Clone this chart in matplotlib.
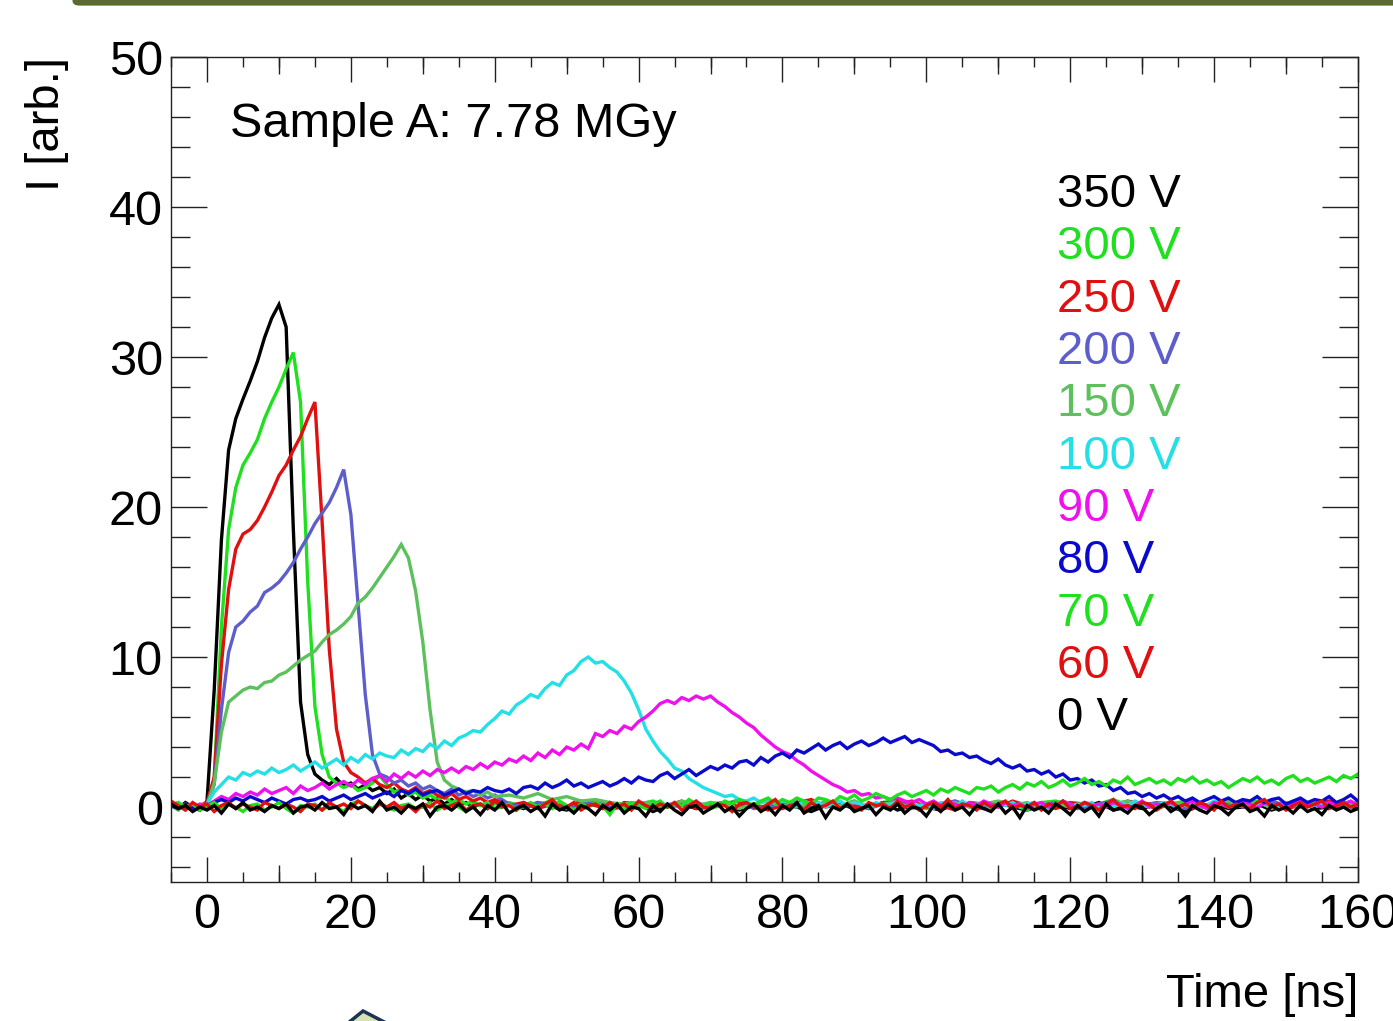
import numpy as np
import matplotlib
matplotlib.use('Agg')
import matplotlib.pyplot as plt
from matplotlib.patches import FancyBboxPatch, Polygon
from matplotlib.ticker import MultipleLocator, NullLocator

plt.rcParams['font.family'] = ['Liberation Sans', 'DejaVu Sans']

# sample times [ns]: 1 ns everywhere for the slow pulses,
# 1 ns up to 40 ns and 2 ns after that for the fast ones
T_FULL = np.arange(-5, 161)
T_FAST = np.concatenate([np.arange(-5, 41), np.arange(42, 161, 2)])

LABELS = ['350 V', '300 V', '250 V', '200 V', '150 V', '100 V',
          '90 V', '80 V', '70 V', '60 V', '0 V']
COLORS = ['#000000', '#1fe01f', '#e01010', '#5d5dcc', '#5cc05c', '#22e0e6',
          '#ee11ee', '#0a0acc', '#1fe01f', '#e01010', '#000000']

# --- fast pulses (on T_FAST) ---
I_350 = [0.2, -0.1, 0.3, 0.0, -0.2, 0.4,
         7.8, 17.8, 23.8, 25.9, 27.2, 28.4, 29.7, 31.3, 32.6, 33.5,
         32.0, 18.5, 7.0, 3.5, 2.2, 1.8, 1.5, 1.9, 1.4, 1.6,
         1.2, 1.5, 1.1, 1.3, 0.9, 1.2, 0.6, 0.9, 0.5, 0.8,
         0.4, 0.6, 0.2, 0.5, 0.1, 0.3, 0.0, 0.2, -0.1, 0.3,
         0.2, -0.1, 0.3, 0.0, -0.2, 0.1, 0.3, -0.1, 0.0, 0.2,
         -0.3, 0.1, 0.2, -0.1, 0.0, 0.3, -0.2, 0.1, -0.1, 0.2,
         0.0, -0.3, 0.1, 0.2, -0.1, 0.0, 0.3, -0.2, 0.1, 0.0,
         -0.2, 0.2, 0.1, -0.1, 0.3, 0.0, -0.2, 0.1, 0.2, -0.1,
         0.0, 0.3, -0.2, 0.1, -0.1, 0.2, 0.0, -0.3, 0.1, 0.2,
         -0.1, 0.0, 0.2, -0.2, 0.1, 0.3, -0.1, 0.0, 0.2, -0.1]
I_300 = [0.3, 0.1, -0.2, 0.2, 0.0, 0.2,
         1.8, 12.0, 18.5, 21.3, 22.8, 23.6, 24.5, 25.9, 27.0, 28.0,
         29.2, 30.3, 27.0, 15.0, 6.7, 3.5, 2.0, 1.6, 1.3, 1.5,
         1.1, 1.3, 1.6, 2.1, 1.5, 1.0, 1.2, 0.8, 1.0, 0.6,
         0.8, 0.5, 0.7, 0.3, 0.5, 0.2, 0.4, 0.1, 0.3, 0.2,
         0.3, 0.0, 0.2, 0.4, -0.1, 0.2, 0.1, 0.3, -0.2, 0.2,
         0.4, 0.0, 0.1, 0.3, -0.1, 0.2, 0.5, 0.1, 0.0, 0.3,
         0.2, -0.1, 0.4, 0.1, 0.2, 0.0, 0.3, 0.5, 0.1, -0.1,
         0.2, 0.4, 0.0, 0.3, 0.1, 0.2, -0.2, 0.3, 0.4, 0.1,
         0.0, 0.2, 0.5, 0.1, 0.3, -0.1, 0.2, 0.4, 0.0, 0.3,
         0.1, 0.2, 0.4, -0.1, 0.3, 0.2, 0.0, 0.4, 0.1, 0.3]
I_250 = [0.3, 0.0, 0.2, -0.1, 0.1, 0.3,
         2.0, 9.5, 14.5, 17.2, 18.2, 18.5, 19.1, 20.0, 21.0, 22.1,
         22.8, 23.8, 24.7, 25.9, 27.0, 19.0, 10.5, 5.2, 3.0, 2.3,
         2.0, 1.6, 1.9, 1.5, 1.3, 1.6, 1.2, 1.0, 1.3, 0.9,
         1.1, 0.8, 0.6, 0.9, 0.5, 0.7, 0.4, 0.6, 0.3, 0.5,
         0.1, 0.3, -0.1, 0.2, 0.0, 0.4, 0.1, -0.2, 0.3, 0.2,
         0.0, 0.1, 0.4, -0.1, 0.2, 0.3, 0.0, 0.2, -0.2, 0.1,
         0.3, 0.5, 0.0, 0.2, 0.1, -0.1, 0.3, 0.2, 0.4, 0.0,
         0.1, -0.2, 0.3, 0.2, 0.0, 0.4, 0.1, 0.2, -0.1, 0.3,
         0.2, 0.0, 0.1, 0.4, 0.2, -0.1, 0.3, 0.0, 0.2, 0.1,
         0.4, 0.0, 0.2, 0.3, -0.1, 0.1, 0.2, 0.4, 0.0, 0.2]
I_200 = [0.0, 0.2, -0.1, 0.1, 0.0, 0.2,
         1.5, 6.5, 10.3, 12.0, 12.4, 13.0, 13.4, 14.3, 14.6, 15.0,
         15.6, 16.3, 17.2, 18.0, 18.9, 19.6, 20.3, 21.3, 22.5, 19.5,
         13.5, 7.5, 3.5, 2.2, 2.0, 1.6, 1.8, 1.4, 1.6, 1.2,
         1.4, 1.1, 0.9, 1.2, 0.8, 1.0, 0.7, 0.9, 0.6, 0.8,
         0.2, 0.0, 0.3, 0.1, -0.1, 0.2, 0.4, 0.0, 0.1, 0.3,
         -0.1, 0.2, 0.1, 0.3, 0.0, 0.2, 0.4, -0.1, 0.1, 0.2,
         0.3, 0.0, 0.2, 0.1, 0.4, -0.1, 0.2, 0.3, 0.0, 0.1,
         0.2, 0.4, 0.1, -0.1, 0.3, 0.2, 0.0, 0.1, 0.3, 0.2,
         -0.1, 0.2, 0.4, 0.0, 0.1, 0.3, 0.2, -0.1, 0.2, 0.1,
         0.3, 0.0, 0.2, 0.4, 0.1, 0.0, 0.3, 0.2, 0.1, 0.3]
I_150 = [0.1, -0.2, 0.2, 0.0, -0.1, 0.1,
         1.6, 5.0, 7.0, 7.4, 7.8, 8.0, 7.9, 8.3, 8.4, 8.8,
         9.0, 9.4, 9.8, 10.1, 10.4, 11.0, 11.5, 11.8, 12.2, 12.7,
         13.6, 14.0, 14.6, 15.3, 16.0, 16.7, 17.5, 16.6, 14.4, 11.0,
         6.5, 3.0, 1.8, 1.4, 1.2, 1.0, 1.1, 0.8, 1.0, 0.7,
         0.8, 0.6, 0.9, 0.5, 0.7, 0.4, 0.5, 0.3, 0.2, 0.3,
         0.2, 0.0, 0.4, 0.1, 0.3, 0.2, -0.1, 0.2, 0.4, 0.1,
         0.0, 0.3, 0.2, 0.1, 0.4, 0.0, 0.2, 0.3, -0.1, 0.2,
         0.1, 0.3, 0.0, 0.2, 0.4, 0.1, 0.3, -0.1, 0.2, 0.0,
         0.3, 0.1, 0.2, 0.4, 0.0, 0.2, 0.3, 0.1, -0.1, 0.2,
         0.4, 0.1, 0.3, 0.0, 0.2, 0.1, 0.3, 0.2, 0.0, 0.3]

# --- slow pulses and baselines (on T_FULL) ---
I_100 = [0.1, 0.3, 0.0, 0.2, -0.1, 0.2, 1.0, 1.5, 2.0, 1.8, 2.3, 2.1, 2.4, 2.2, 2.6, 2.3, 2.5, 2.8, 2.4, 2.7,
         3.0, 2.6, 2.9, 3.2, 2.8, 3.3, 3.0, 3.5, 3.2, 3.6, 3.4, 3.3, 3.8, 3.5, 3.9, 3.7, 4.2, 3.9, 4.4, 4.1,
         4.6, 4.8, 5.1, 5.0, 5.5, 5.9, 6.4, 6.2, 6.8, 7.1, 7.5, 7.3, 7.9, 8.3, 8.1, 8.8, 9.1, 9.7, 10.0, 9.6,
         9.7, 9.3, 9.0, 8.4, 7.6, 6.5, 5.2, 4.4, 3.7, 3.2, 2.6, 2.4, 1.9, 1.6, 1.3, 1.1, 0.9, 0.7, 0.8, 0.5,
         0.4, 0.6, 0.3, 0.5, 0.2, 0.4, 0.3, 0.1, 0.4, 0.2, 0.3, 0.0, 0.2, 0.4, 0.1, 0.3, 0.2, 0.0, 0.3, 0.1,
         0.2, 0.4, 0.0, 0.3, 0.1, 0.2, -0.1, 0.3, 0.2, 0.0, 0.4, 0.1, 0.2, 0.3, -0.1, 0.2, 0.1, 0.3, 0.0, 0.2,
         0.3, 0.1, -0.1, 0.2, 0.4, 0.0, 0.2, 0.1, 0.3, -0.1, 0.2, 0.0, 0.3, 0.1, 0.4, 0.2, 0.0, 0.1, 0.3, 0.2,
         -0.1, 0.2, 0.3, 0.0, 0.1, 0.4, 0.2, 0.0, 0.3, 0.1, -0.1, 0.2, 0.3, 0.1, 0.0, 0.2, 0.4, 0.1, 0.2, 0.0,
         0.3, 0.1, 0.2, 0.4, 0.0, 0.2]
I_90 = [0.2, 0.0, 0.1, -0.1, 0.2, 0.1, 0.4, 0.7, 0.5, 0.9, 0.7, 1.0, 0.8, 1.2, 0.9, 1.1, 1.3, 0.9, 1.4, 1.1,
        1.3, 1.6, 1.2, 1.5, 1.7, 1.4, 1.8, 1.5, 1.9, 2.1, 1.7, 2.2, 1.9, 2.3, 2.0, 2.4, 2.1, 2.5, 2.3, 2.6,
        2.3, 2.7, 2.5, 2.9, 2.6, 3.0, 2.8, 3.2, 3.0, 3.4, 3.1, 3.6, 3.3, 3.8, 3.5, 4.0, 3.8, 4.2, 3.9, 4.9,
        4.7, 5.1, 4.9, 5.4, 5.2, 5.7, 6.0, 6.4, 6.9, 7.1, 6.9, 7.3, 7.1, 7.4, 7.2, 7.4, 7.0, 6.7, 6.3, 6.0,
        5.6, 5.3, 4.8, 4.4, 4.0, 3.7, 3.5, 3.1, 2.8, 2.4, 2.1, 1.8, 1.5, 1.3, 1.0, 1.1, 0.8, 0.9, 0.6, 0.7,
        0.5, 0.6, 0.4, 0.3, 0.5, 0.2, 0.4, 0.1, 0.3, 0.2, 0.0, 0.3, 0.1, 0.4, 0.2, 0.0, 0.3, 0.1, 0.2, -0.1,
        0.2, 0.3, 0.0, 0.1, 0.4, 0.2, -0.1, 0.3, 0.1, 0.2, 0.0, 0.3, 0.2, -0.1, 0.1, 0.4, 0.0, 0.2, 0.1, 0.3,
        0.0, 0.2, 0.4, 0.1, -0.1, 0.3, 0.2, 0.0, 0.1, 0.4, 0.2, -0.1, 0.3, 0.1, 0.2, 0.0, 0.3, 0.4, 0.1, 0.2,
        0.0, 0.3, 0.1, 0.2, 0.4, 0.1]
I_80 = [0.1, -0.1, 0.2, 0.0, -0.2, 0.1, 0.3, 0.5, 0.3, 0.6, 0.4, 0.7, 0.5, 0.3, 0.6, 0.4, 0.2, 0.5, 0.6, 0.4,
        0.5, 0.7, 0.4, 0.6, 0.8, 0.5, 0.7, 0.9, 0.6, 0.8, 1.0, 0.7, 1.1, 0.9, 1.2, 0.8, 1.0, 1.1, 0.8, 1.0,
        1.2, 0.9, 1.1, 1.0, 1.3, 1.1, 1.0, 1.2, 0.9, 1.3, 1.4, 1.2, 1.6, 1.3, 1.5, 1.8, 1.4, 1.6, 1.3, 1.5,
        1.7, 1.4, 1.6, 1.9, 1.6, 2.0, 1.8, 1.7, 2.1, 2.3, 1.9, 2.2, 2.5, 2.1, 2.4, 2.7, 2.5, 2.8, 2.6, 3.0,
        3.1, 2.8, 3.3, 3.0, 3.4, 3.6, 3.3, 3.8, 3.6, 3.9, 4.2, 3.8, 4.1, 4.3, 3.9, 4.2, 4.4, 4.1, 4.3, 4.6,
        4.3, 4.5, 4.7, 4.3, 4.5, 4.3, 4.1, 3.7, 3.8, 3.5, 3.6, 3.3, 3.4, 3.1, 2.9, 3.2, 2.8, 2.6, 2.8, 2.4,
        2.5, 2.2, 2.4, 2.0, 2.2, 1.8, 1.9, 1.6, 1.8, 1.4, 1.5, 1.1, 1.3, 0.9, 1.0, 0.7, 0.9, 0.6, 0.8, 0.5,
        0.7, 0.4, 0.6, 0.3, 0.5, 0.7, 0.4, 0.6, 0.3, 0.5, 0.4, 0.7, 0.3, 0.5, 0.6, 0.2, 0.4, 0.6, 0.3, 0.5,
        0.4, 0.7, 0.3, 0.5, 0.8, 0.4]
I_70 = [0.1, 0.3, 0.0, 0.2, -0.2, 0.1, 0.3, -0.1, 0.2, 0.0, -0.3, 0.1, 0.2, -0.2, 0.0, 0.3, -0.1, -0.4, 0.1, 0.0,
        0.2, -0.2, 0.1, 0.0, -0.3, 0.2, 0.4, 0.1, -0.1, 0.3, 0.0, -0.2, 0.1, 0.2, -0.1, 0.0, 0.3, -0.2, 0.1, 0.2,
        0.0, -0.3, 0.2, 0.1, 0.3, -0.1, 0.0, 0.2, -0.2, 0.1, 0.3, 0.0, 0.2, -0.1, 0.4, 0.1, -0.2, 0.2, 0.0, 0.3,
        0.1, -0.5, 0.2, 0.0, 0.3, 0.1, -0.1, 0.2, 0.4, 0.0, 0.3, 0.1, 0.5, 0.2, 0.0, 0.3, 0.1, 0.4, 0.2, 0.5,
        0.3, 0.1, 0.4, 0.6, 0.2, 0.5, 0.3, 0.6, 0.4, 0.2, 0.6, 0.5, 0.3, 0.7, 0.5, 0.8, 0.4, 0.6, 0.9, 0.7,
        0.5, 0.8, 1.0, 0.7, 0.9, 1.1, 0.8, 1.2, 1.0, 1.3, 1.1, 0.9, 1.3, 1.2, 1.4, 1.0, 1.3, 1.5, 1.2, 1.6,
        1.4, 1.7, 1.3, 1.5, 1.8, 1.4, 1.6, 1.9, 1.5, 1.7, 1.4, 1.8, 1.6, 2.0, 1.5, 1.7, 1.9, 1.6, 1.8, 1.5,
        1.9, 1.7, 2.0, 1.6, 1.8, 1.5, 1.7, 1.3, 1.6, 1.9, 1.7, 2.0, 1.6, 1.8, 1.5, 1.9, 2.1, 1.7, 1.9, 1.6,
        1.8, 2.0, 1.7, 2.1, 1.9, 2.2]
I_60 = [0.4, 0.1, -0.2, 0.3, 0.0, 0.2, -0.3, 0.1, 0.3, -0.1, 0.2, 0.0, -0.2, 0.3, 0.1, -0.1, 0.2, 0.0, -0.3, 0.2,
        0.1, -0.2, 0.3, 0.0, 0.2, -0.1, 0.4, 0.1, -0.2, 0.2, 0.0, 0.3, -0.1, 0.1, -0.3, 0.2, 0.0, 0.4, -0.1, 0.1,
        0.3, -0.2, 0.1, 0.2, -0.1, 0.4, 0.0, 0.1, -0.2, 0.3, 0.1, -0.1, 0.2, 0.5, -0.1, 0.0, 0.3, -0.2, 0.1, 0.2,
        -0.1, 0.3, 0.0, 0.2, -0.2, 0.4, 0.1, -0.1, 0.2, 0.0, 0.3, -0.2, 0.1, 0.4, 0.0, -0.1, 0.2, 0.1, -0.3, 0.2,
        0.3, 0.0, -0.1, 0.2, 0.5, -0.1, 0.1, 0.2, -0.2, 0.3, 0.0, 0.1, 0.4, -0.1, 0.2, 0.0, -0.2, 0.3, 0.1, 0.2,
        -0.1, 0.4, 0.0, 0.2, -0.2, 0.1, 0.3, 0.0, 0.5, -0.1, 0.2, 0.1, -0.2, 0.3, 0.0, 0.2, 0.4, -0.1, 0.1, 0.0,
        0.3, -0.2, 0.2, 0.1, 0.4, -0.1, 0.0, 0.3, 0.1, -0.2, 0.2, 0.5, 0.0, 0.1, -0.1, 0.3, 0.2, -0.2, 0.1, 0.4,
        0.0, 0.2, -0.1, 0.3, 0.1, -0.2, 0.4, 0.0, 0.2, 0.1, -0.1, 0.3, 0.5, 0.0, 0.2, -0.2, 0.1, 0.3, 0.0, 0.2,
        0.4, -0.1, 0.1, 0.3, 0.0, 0.2]
I_0 = [0.2, -0.1, 0.1, -0.3, 0.0, -0.2, 0.1, -0.4, 0.2, -0.1, 0.3, -0.2, 0.0, -0.3, 0.1, -0.1, 0.2, -0.4, 0.0, 0.1,
       -0.2, 0.3, -0.1, 0.0, -0.5, 0.2, -0.1, 0.1, -0.3, 0.4, -0.2, 0.0, -0.4, 0.1, -0.1, 0.2, -0.6, 0.0, 0.1, -0.2,
       0.2, -0.3, 0.0, -0.5, 0.1, -0.2, 0.3, -0.4, -0.1, 0.1, -0.3, 0.0, -0.6, 0.2, -0.2, 0.0, -0.4, 0.1, -0.1, -0.5,
       0.1, -0.2, 0.2, -0.4, 0.0, -0.1, -0.6, 0.1, -0.3, 0.2, -0.2, -0.5, 0.0, 0.1, -0.4, -0.1, 0.2, -0.3, 0.0, -0.6,
       -0.1, 0.2, -0.3, 0.0, -0.5, 0.1, -0.2, 0.3, -0.4, -0.1, 0.1, -0.7, 0.0, -0.2, 0.2, -0.3, -0.1, 0.1, -0.5, 0.0,
       -0.2, 0.2, -0.4, 0.0, -0.1, -0.6, 0.1, -0.3, 0.2, -0.2, 0.0, -0.5, 0.1, -0.1, -0.3, 0.2, -0.4, 0.0, -0.7, 0.1,
       -0.2, 0.0, -0.4, 0.2, -0.1, -0.5, 0.1, -0.3, 0.0, -0.6, 0.2, -0.2, -0.1, -0.4, 0.1, 0.0, -0.5, -0.1, 0.2, -0.3,
       0.0, -0.6, 0.1, -0.2, -0.4, 0.1, -0.1, -0.5, 0.0, 0.2, -0.3, -0.1, -0.6, 0.1, -0.2, 0.0, -0.4, 0.1, -0.3, -0.1,
       -0.5, 0.1, -0.2, 0.0, -0.3, -0.1]

SERIES = [(T_FAST, I_350), (T_FAST, I_300), (T_FAST, I_250), (T_FAST, I_200),
          (T_FAST, I_150), (T_FULL, I_100), (T_FULL, I_90), (T_FULL, I_80),
          (T_FULL, I_70), (T_FULL, I_60), (T_FULL, I_0)]


def main():
    fig = plt.figure(figsize=(13.93, 10.21), dpi=100)
    ax = fig.add_axes([0.1228, 0.1361, 0.852, 0.808])

    for (t, vals), color in zip(SERIES, COLORS):
        ax.plot(t, vals, color=color, lw=2.4, solid_joinstyle='miter')

    ax.set_xlim(-5, 160)
    ax.set_ylim(-5, 50)

    # ROOT-like ticks: inside, on all four sides
    ax.xaxis.set_major_locator(MultipleLocator(20))
    ax.xaxis.set_minor_locator(MultipleLocator(5))
    ax.yaxis.set_major_locator(MultipleLocator(10))
    ax.yaxis.set_minor_locator(MultipleLocator(2))
    ax.tick_params(which='both', direction='in', top=True, right=True,
                   color='#222222', width=1.0)
    ax.tick_params(axis='x', which='major', length=18, labelsize=35, pad=8)
    ax.tick_params(axis='x', which='minor', length=7)
    ax.tick_params(axis='y', which='major', length=26, labelsize=35, pad=6)
    ax.tick_params(axis='y', which='minor', length=13.5)
    # medium ticks at the half divisions
    for loc in ('bottom', 'top'):
        sec = ax.secondary_xaxis(loc)
        sec.set_xticks(np.arange(10, 161, 20))
        sec.xaxis.set_minor_locator(NullLocator())
        sec.tick_params(direction='in', length=12, width=1.0, color='#222222',
                        labelbottom=False, labeltop=False)
        sec.spines[loc].set_visible(False)
    for sp in ax.spines.values():
        sp.set_color('#222222')
        sp.set_linewidth(1.0)

    ax.set_xlabel('Time [ns]', fontsize=34, loc='right')
    ax.xaxis.set_label_coords(1.0, -0.110)
    ax.set_ylabel('I [arb.]', fontsize=34, loc='top')
    ax.yaxis.set_label_coords(-0.086, 1.0)

    ax.text(0.0497, 0.918, 'Sample A: 7.78 MGy', transform=ax.transAxes,
            fontsize=35, va='center', ha='left')

    for i, (lab, color) in enumerate(zip(LABELS, COLORS)):
        ax.text(0.7464, 0.8327 - i * 0.0634, lab, color=color,
                transform=ax.transAxes, fontsize=34, va='center', ha='left')

    # slide decorations around the plot
    fig.patches.append(FancyBboxPatch((0.052, 0.9945), 1.0, 0.03,
                                      boxstyle='round,pad=0,rounding_size=0.005',
                                      transform=fig.transFigure,
                                      facecolor='#5b6b30', edgecolor='none'))
    fig.patches.append(Polygon([(0.2426, -0.01), (0.2606, 0.0098), (0.2886, -0.01)],
                               closed=True, transform=fig.transFigure,
                               facecolor='#d6e2b4', edgecolor='#1c3452', lw=2.5))

    fig.savefig('out.png', dpi=100)
    plt.close(fig)


if __name__ == '__main__':
    main()
